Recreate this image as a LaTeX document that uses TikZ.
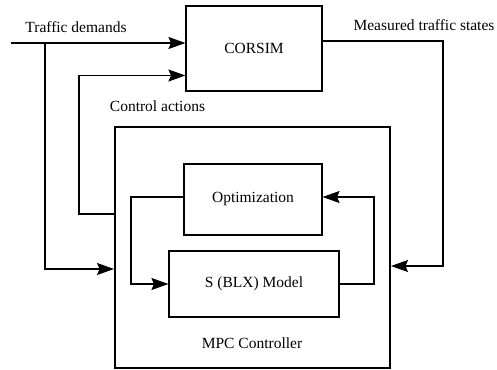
\documentclass[tikz,border=0pt]{standalone}
\usepackage{fontspec}
\setmainfont{Liberation Serif}
\newfontfamily\tnr{Liberation Serif}
\usetikzlibrary{arrows.meta}
\begin{document}
\begin{tikzpicture}[x=1pt,y=-1pt,
  box/.style={draw,line width=1.1pt,rectangle,inner sep=0pt},
  conn/.style={line width=1.1pt},
  arr/.style={conn,-{Stealth[length=17pt,width=12pt,inset=2.5pt]}},
  lbl/.style={font=\tnr\fontsize{15.5}{18}\selectfont,inner sep=0pt}]
\useasboundingbox (0,0) rectangle (497,369);
\node[box,minimum width=136pt,minimum height=85pt,lbl] (corsim) at (254,48.5) {CORSIM};
\node[box,line width=2pt,minimum width=275pt,minimum height=241pt] (mpc) at (252.5,247.5) {};
\node[box,minimum width=138pt,minimum height=71pt,lbl] (opt) at (253,199.5) {Optimization};
\node[box,minimum width=170pt,minimum height=66pt,lbl] (model) at (254,284) {S (BLX) Model};
\node[lbl] (mpclbl) at (252,343) {MPC Controller};
\node[lbl] (tdlbl) at (76,27) {Traffic demands};
\node[lbl] (mtlbl) at (424,25) {Measured traffic states};
\node[lbl] (calbl) at (157.5,106) {Control actions};
\coordinate (tdin) at (11,43);
\coordinate (br) at (45,43);
\draw[arr] (tdin) -- (tdin -| corsim.west);
\draw[arr] (br) |- (mpc.west |- 0,269);
\draw[arr] (mpc.west |- 0,214) -| (79,75.5) -- (corsim.west |- 0,75.5);
\draw[arr] (corsim.east |- 0,41) -| (443,266) -- (mpc.east |- 0,266);
\draw[arr] (opt.west |- 0,197) -| (131,284) -- (model.west);
\draw[arr] (model.east) -| (374,197) -- (opt.east |- 0,197);
\end{tikzpicture}
\end{document}
